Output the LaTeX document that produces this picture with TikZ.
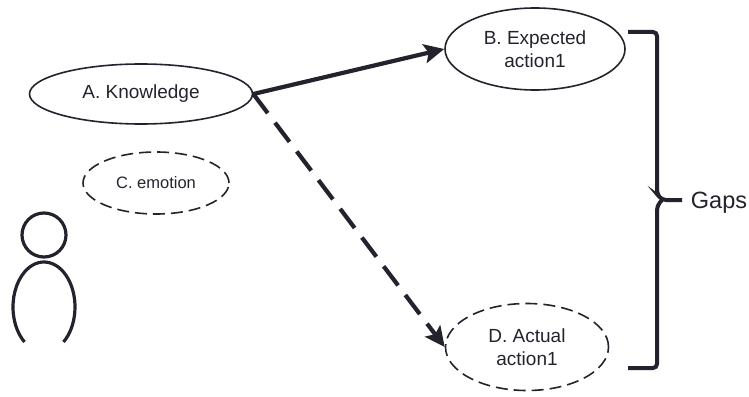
\documentclass[tikz,border=0pt]{standalone}
\usepackage{fontspec}
\setmainfont{Liberation Sans}
\usetikzlibrary{shapes.geometric, arrows.meta}
\definecolor{ink}{RGB}{35,35,45}

\begin{document}
\begin{tikzpicture}[x=1pt, y=-1pt, ink,
        oval/.style={draw, ellipse, line width=1.6pt, inner sep=0pt, align=center, font=\fontsize{19}{23}\selectfont},
        dashoval/.style={oval, dash pattern=on 12pt off 6pt},
        arr/.style={line width=4.2pt, -{Stealth[length=20pt, width=19pt, inset=4pt]}}]
        \useasboundingbox (0, 0) rectangle (749, 396);

        \node[oval, minimum width=223, minimum height=60] (know) at (141, 94) {A. Knowledge};
        \node[dashoval, minimum width=146, minimum height=62, font=\fontsize{16.5}{20}\selectfont] (emo) at (156, 183) {C. emotion};
        \node[oval, minimum width=180, minimum height=82] (expect) at (535, 49) {B. Expected\\action1};
        \node[dashoval, minimum width=163, minimum height=87] (actual) at (527, 347) {D. Actual\\action1};

        \draw[arr] (know.east) -- (expect.west);
        \draw[arr, dash pattern=on 24pt off 12pt] (know.east) -- (actual.west);

        % person
        \draw[line width=3.2pt] (44, 235) circle (22);
        \draw[line width=3.2pt] (44, 307) ++(51:31 and 45) arc (51:-231:31 and 45);

        % bracket
        \draw[line width=4pt, rounded corners=4pt] (628, 32) -- (657, 32) -- (657, 194) -- (662, 200) -- (682, 200);
        \draw[line width=4pt, rounded corners=4pt] (662, 200) -- (657, 206) -- (657, 368) -- (628, 368);
        \node[font=\fontsize{23.5}{28}\selectfont] (gaps) at (719, 203) {Gaps};
    \end{tikzpicture}
\end{document}
